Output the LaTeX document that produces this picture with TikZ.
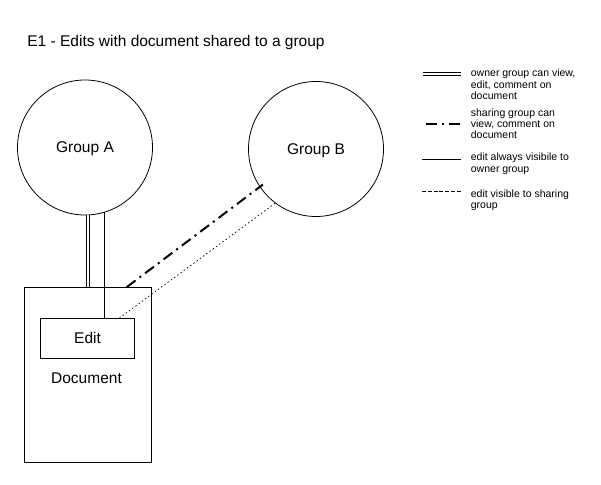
\documentclass[tikz,border=0pt]{standalone}
\usepackage{fontspec}
\setmainfont{Liberation Sans}
\begin{document}
\begin{tikzpicture}[x=1pt,y=-1pt,line width=0.8pt,
  group/.style={draw,circle,minimum size=135pt,inner sep=0pt,text depth=0pt,font=\fontsize{15.5}{18}\selectfont},
  box/.style={draw,rectangle,inner sep=0pt},
  lbl/.style={inner sep=0pt,font=\fontsize{15.5}{18}\selectfont},
  legtext/.style={inner sep=0pt,anchor=base west,font=\fontsize{10.5}{12}\selectfont},
  ownerline/.style={double=white,double distance=2.2pt,line width=0.8pt},
  shareline/.style={line width=2pt,dash pattern=on 11pt off 5pt on 2pt off 5pt},
  editline/.style={line width=0.8pt},
  shareedit/.style={line width=0.7pt,dash pattern=on 1.5pt off 2.5pt},
  legdashed/.style={line width=0.7pt,dash pattern=on 4pt off 1.8pt}]
\fill[white] (0,0) rectangle (601,484);
\path[use as bounding box] (0,0) rectangle (601,484);

\node[lbl,anchor=base west] (title) at (27,46.7) {E1 - Edits with document shared to a group};
\node[group] (ga) at (85,147.5) {Group A};
\node[group] (gb) at (316,149) {Group B};
\node[box,minimum width=126.5pt,minimum height=174.5pt] (doc) at (87.75,374.75) {};
\node[box,minimum width=93.8pt,minimum height=39.5pt,font=\fontsize{15.5}{18}\selectfont] (edit) at (87.6,338.25) {Edit};
\node[lbl,anchor=base] (doclbl) at (86.5,383) {Document};

\draw[ownerline] (doc.north) -- (doc.north |- ga.south);
\draw[editline] (ga.-73.5) -- (ga.-73.5 |- edit.north);
\draw[shareline,shorten >=-4pt] ([xshift=39pt]doc.north) -- (gb.214);
\draw[shareedit,shorten >=-2.5pt] ([xshift=31.7pt]edit.north) -- (gb.233);

\coordinate (o1) at (422.5,74);   \coordinate (o2) at (461,74);
\coordinate (s1) at (426,124);    \coordinate (s2) at (461,124);
\coordinate (e1) at (422,159.7);  \coordinate (e2) at (461,159.7);
\coordinate (d1) at (422,191.3);  \coordinate (d2) at (461,191.3);
\draw[ownerline] (o1) -- (o2);
\draw[shareline,line width=2.3pt] (s1) -- (s2);
\draw[editline] (e1) -- (e2);
\draw[legdashed] (d1) -- (d2);

\node[legtext] (t1a) at (470.5,77) {owner group can view,};
\node[legtext] (t1b) at (470.5,88.3) {edit, comment on};
\node[legtext] (t1c) at (470.5,99.7) {document};
\node[legtext] (t2a) at (470.5,116.5) {sharing group can};
\node[legtext] (t2b) at (470.5,127.5) {view, comment on};
\node[legtext] (t2c) at (470.5,138.5) {document};
\node[legtext] (t3a) at (470.5,160.3) {edit always visibile to};
\node[legtext] (t3b) at (470.5,172) {owner group};
\node[legtext] (t4a) at (470.5,197) {edit visible to sharing};
\node[legtext] (t4b) at (470.5,208.5) {group};
\end{tikzpicture}
\end{document}
